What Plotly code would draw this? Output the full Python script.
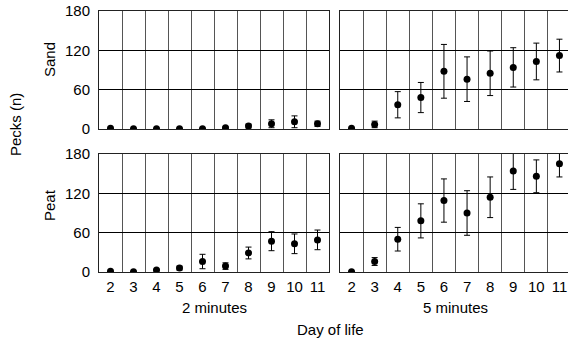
import plotly.graph_objects as go

W, H = 568, 341

days = [2, 3, 4, 5, 6, 7, 8, 9, 10, 11]
day_labels = [str(d) for d in days]

sand_2min = [1, 0.5, 0.5, 0.5, 0.5, 2, 4.5, 8, 11, 8]
sand_2min_err = [0, 0, 0, 0, 0, 1, 3, 6, 9, 4]
sand_5min = [1, 7, 37, 48, 88, 76, 85, 94, 103, 112]
sand_5min_err = [0, 5, 20, 23, 41, 34, 34, 30, 28, 25]
peat_2min = [1, 0.5, 3, 6, 16, 9, 29, 47, 43, 49]
peat_2min_err = [0, 0, 1, 3, 11, 5, 9, 14.5, 15, 15]
peat_5min = [0.5, 16, 50, 78, 109, 90, 114, 154, 146, 165]
peat_5min_err = [0, 6, 18, 26, 33, 34, 31, 28, 25, 20]

y_ticks = [0, 60, 120, 180]
FONT = "Liberation Sans, Arial, sans-serif"
FS = 15

fig = go.Figure()

panels = [
    ("x", "y", sand_2min, sand_2min_err),
    ("x2", "y2", sand_5min, sand_5min_err),
    ("x3", "y3", peat_2min, peat_2min_err),
    ("x4", "y4", peat_5min, peat_5min_err),
]
for xa, ya, vals, errs in panels:
    fig.add_trace(go.Scatter(
        x=days, y=vals, xaxis=xa, yaxis=ya, mode="markers",
        marker=dict(color="black", size=7),
        error_y=dict(type="data", array=errs, visible=True, color="black",
                     thickness=1, width=3),
        cliponaxis=True, showlegend=False, hoverinfo="skip",
    ))

def fx(px):
    return px / W

def fy(py):
    return 1 - py / H

left_dom = [fx(99), fx(329)]
right_dom = [fx(340), 1.0]
top_dom = [fy(129), fy(11)]
bot_dom = [fy(272), fy(154)]

left_range = [1.5, 11.5]
right_range = [1.5, 1.5 + 10 * (228 / 231)]

def xaxis(domain, rng, anchor, show_labels):
    return dict(
        domain=domain, range=rng, anchor=anchor, automargin=False,
        tickvals=days, ticktext=day_labels, showticklabels=show_labels,
        ticklabeloverflow="allow",
        ticks="outside" if show_labels else "", ticklen=1, tickcolor="rgba(0,0,0,0)",
        showgrid=False, zeroline=False,
        showline=True, linecolor="#222", linewidth=1, mirror=True,
        minor=dict(tick0=1.5, dtick=1, showgrid=True, gridcolor="#555", gridwidth=1, ticks=""),
        tickfont=dict(family=FONT, size=FS, color="black"),
        fixedrange=True,
    )

def yaxis(domain, anchor, show_labels, mirror):
    return dict(
        domain=domain, range=[0, 180], anchor=anchor, automargin=False,
        tickvals=y_ticks, showticklabels=show_labels,
        ticklabeloverflow="allow",
        ticks="outside" if show_labels else "", ticklen=5, tickcolor="rgba(0,0,0,0)",
        showgrid=True, gridcolor="black", gridwidth=1, zeroline=False,
        showline=True, linecolor="#222", linewidth=1, mirror=mirror,
        tickfont=dict(family=FONT, size=FS, color="black"),
        fixedrange=True,
    )

fig.update_layout(
    width=W, height=H,
    margin=dict(l=0, r=0, t=0, b=0),
    paper_bgcolor="white", plot_bgcolor="white",
    font=dict(family=FONT, size=FS, color="black"),
    hovermode=False,
    xaxis=xaxis(left_dom, left_range, "y", False),
    yaxis=yaxis(top_dom, "x", True, True),
    xaxis2=xaxis(right_dom, right_range, "y2", False),
    yaxis2=yaxis(top_dom, "x2", False, False),
    xaxis3=xaxis(left_dom, left_range, "y3", True),
    yaxis3=yaxis(bot_dom, "x3", True, True),
    xaxis4=xaxis(right_dom, right_range, "y4", True),
    yaxis4=yaxis(bot_dom, "x4", False, False),
)

ann_font = dict(family=FONT, size=FS, color="black")
def ann(text, xpx, ypx, angle=0):
    fig.add_annotation(text=text, x=fx(xpx), y=fy(ypx), xref="paper", yref="paper",
                       xanchor="center", yanchor="middle",
                       textangle=angle, showarrow=False, font=ann_font)

ann("Sand", 49, 60, -90)
ann("Peat", 49, 205, -90)
ann("Pecks (n)", 15, 125, -90)
ann("2 minutes", 214, 307)
ann("5 minutes", 455, 307)
ann("Day of life", 331, 329)

fig.write_html(
    "out.html",
    config={"displayModeBar": False, "staticPlot": True},
    post_script="document.body.style.margin='0';document.body.style.overflow='hidden';",
)
